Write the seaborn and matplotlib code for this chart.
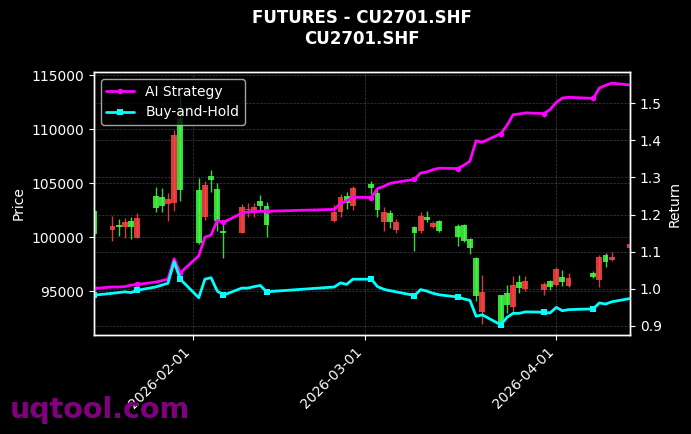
import matplotlib
matplotlib.use("Agg")
import matplotlib.pyplot as plt
import matplotlib.dates as mdates
from matplotlib.ticker import MultipleLocator
import numpy as np
import pandas as pd
import seaborn as sns

# ---------------- data ----------------
dates = [
    "2026-01-16", "2026-01-19", "2026-01-20", "2026-01-21", "2026-01-22", "2026-01-23",
    "2026-01-26", "2026-01-27", "2026-01-28", "2026-01-29", "2026-01-30",
    "2026-02-02", "2026-02-03", "2026-02-04", "2026-02-05", "2026-02-06",
    "2026-02-09", "2026-02-10", "2026-02-11", "2026-02-12", "2026-02-13",
    "2026-02-24", "2026-02-25", "2026-02-26", "2026-02-27",
    "2026-03-02", "2026-03-03", "2026-03-04", "2026-03-05", "2026-03-06",
    "2026-03-09", "2026-03-10", "2026-03-11", "2026-03-12", "2026-03-13",
    "2026-03-16", "2026-03-17", "2026-03-18", "2026-03-19", "2026-03-20",
    "2026-03-23", "2026-03-24", "2026-03-25", "2026-03-26", "2026-03-27",
    "2026-03-30", "2026-03-31", "2026-04-01", "2026-04-02", "2026-04-03",
    "2026-04-07", "2026-04-08", "2026-04-09", "2026-04-10", "2026-04-13",
]
opens = [
    100350, 101080, 100980, 101380, 100920, 101760,
    102730, 102900, 103600, 109490, 104350,
    99510, 104810, 105280, 101540, 100450,
    102850, 102600, 102790, 102940, 101170,
    102380, 103720, 103160, 104600,
    104600, 102540, 102320, 101380, 101450,
    100450, 102010, 101610, 101320, 100610,
    100080, 99670, 98990, 94530, 94910,
    92040, 93760, 95560, 95310, 95940,
    95680, 95370, 97030, 95840, 96240,
    96340, 98180, 97710, 98180, 99360,
]
highs = [
    102600, 102010, 101730, 101820, 101850, 102290,
    104650, 104530, 104070, 109950, 113410,
    105530, 105220, 106280, 105030, 101540,
    103100, 103150, 103200, 103970, 103250,
    103040, 104040, 104190, 104720,
    105190, 104410, 102790, 102540, 101700,
    101080, 102320, 102410, 101540, 101640,
    101230, 101230, 99980, 98180, 96560,
    94690, 95560, 96400, 96560, 96400,
    95870, 96090, 97240, 96940, 96710,
    96870, 98360, 98580, 98650, 99450,
]
lows = [
    100250, 99670, 100140, 99950, 99860, 99900,
    102320, 102320, 101540, 102480, 103410,
    99400, 101600, 104190, 100610, 98110,
    100400, 101900, 101900, 102480, 100050,
    101400, 101850, 102640, 102540,
    104040, 101850, 100610, 100860, 100450,
    98740, 100450, 101380, 100860, 100540,
    99210, 99610, 98430, 94070, 91940,
    91880, 92970, 93130, 94840, 95000,
    94690, 95160, 95530, 95470, 95420,
    96240, 95370, 97270, 97800, 98950,
]
closes = [
    102480, 100700, 101170, 100920, 101540, 99930,
    103790, 103700, 103130, 103160, 110950,
    104350, 101850, 105650, 104510, 100610,
    100450, 102500, 102480, 103410, 102940,
    101480, 102320, 103880, 102940,
    104970, 104090, 101380, 102220, 100700,
    100920, 100610, 101850, 100920, 101540,
    101080, 101170, 99830, 98110, 93070,
    94630, 94840, 93530, 95870, 95220,
    95090, 95940, 95630, 96310, 95470,
    96710, 96030, 98360, 97900, 99050,
]
ai_strategy = [
    1.001, 1.005, 1.005, 1.006, 1.010, 1.012,
    1.018, 1.022, 1.026, 1.081, 1.043,
    1.089, 1.139, 1.145, 1.184, 1.179,
    1.204, 1.207, 1.208, 1.209, 1.209,
    1.214, 1.230, 1.237, 1.247,
    1.246, 1.270, 1.276, 1.284, 1.287,
    1.295, 1.312, 1.315, 1.321, 1.325,
    1.324, 1.333, 1.344, 1.399, 1.395,
    1.418, 1.440, 1.469, 1.471, 1.474,
    1.472, 1.483, 1.502, 1.514, 1.516,
    1.513, 1.541, 1.548, 1.554, 1.549,
]
buy_hold = [
    0.983, 0.988, 0.990, 0.992, 0.990, 0.996,
    1.005, 1.010, 1.015, 1.073, 1.026,
    0.976, 1.026, 1.030, 0.994, 0.983,
    1.002, 1.002, 1.006, 1.009, 0.992,
    1.005, 1.016, 1.012, 1.026,
    1.026, 1.006, 0.999, 0.995, 0.992,
    0.982, 0.998, 0.994, 0.988, 0.984,
    0.978, 0.973, 0.969, 0.926, 0.930,
    0.903, 0.923, 0.934, 0.934, 0.938,
    0.937, 0.935, 0.950, 0.941, 0.944,
    0.946, 0.962, 0.959, 0.965, 0.974,
]

title_text = "FUTURES - CU2701.SHF\nCU2701.SHF"

# ---------------- style ----------------
sns.set_theme(style="dark", rc={
    "figure.facecolor": "black",
    "axes.facecolor": "black",
    "axes.edgecolor": "white",
    "axes.labelcolor": "white",
    "axes.linewidth": 1.0,
    "text.color": "white",
    "xtick.color": "white",
    "ytick.color": "white",
    "xtick.bottom": True,
    "ytick.left": True,
    "xtick.major.size": 3.5,
    "ytick.major.size": 3.5,
    "xtick.major.width": 0.8,
    "ytick.major.width": 0.8,
    "font.size": 10,
    "axes.labelsize": 10,
    "xtick.labelsize": 10,
    "ytick.labelsize": 10,
    "legend.fontsize": 10,
})
plt.rcParams["font.family"] = ["DejaVu Sans"]

up_color = "#44ff44"
down_color = "#ff4444"

df = pd.DataFrame({
    "date": pd.to_datetime(dates),
    "open": opens, "high": highs, "low": lows, "close": closes,
    "ai": ai_strategy, "bh": buy_hold,
})
df["x"] = mdates.date2num(df["date"])

fig, ax = plt.subplots(figsize=(6.91, 4.34), dpi=100)
fig.subplots_adjust(left=0.136, right=0.912, top=0.834, bottom=0.228)

# candlesticks
cols = np.where(df["close"] >= df["open"], up_color, down_color)
ax.vlines(df["x"], df["low"], df["high"], colors=cols, linewidth=1, alpha=0.85, zorder=2)
ax.bar(df["x"], (df["close"] - df["open"]).abs().clip(lower=60),
       bottom=np.minimum(df["open"], df["close"]), width=0.95,
       color=cols, alpha=0.85, linewidth=0, zorder=3)

ax.set_ylim(90950, 115320)
ax.yaxis.set_major_locator(MultipleLocator(5000))
ax.set_ylabel("Price")
ax.grid(True, color="#888888", linestyle="--", linewidth=0.5, alpha=0.45)

# return lines
ax2 = ax.twinx()
sns.lineplot(data=df, x="x", y="ai", ax=ax2, color="#ff00ff", linewidth=2,
             marker="o", markersize=4, markevery=5, markeredgewidth=0,
             label="AI Strategy", legend=False)
sns.lineplot(data=df, x="x", y="bh", ax=ax2, color="#00ffff", linewidth=2,
             marker="s", markersize=4, markevery=5, markeredgewidth=0,
             label="Buy-and-Hold", legend=False)
ax2.set_ylim(0.8755, 1.584)
ax2.yaxis.set_major_locator(MultipleLocator(0.1))
ax2.set_ylabel("Return")
ax2.set_xlabel("")
ax2.grid(True, axis="y", color="#888888", linestyle="--", linewidth=0.5, alpha=0.45)
ax2.tick_params(axis="y", colors="white", right=True, length=3.5, width=0.8)
for sp in ax2.spines.values():
    sp.set_color("white")
    sp.set_linewidth(1.0)

ax.set_xlim(df["x"].iloc[0], df["x"].iloc[-1])
ax.xaxis.set_major_locator(mdates.MonthLocator())
ax.xaxis.set_major_formatter(mdates.DateFormatter("%Y-%m-%d"))
ax.set_xlabel("")
for lbl in ax.get_xticklabels():
    lbl.set_rotation(45)
    lbl.set_ha("right")

leg = ax2.legend(loc="upper left", facecolor="black", edgecolor="#cccccc",
                 framealpha=0.8, labelcolor="white")

ax.set_title(title_text, fontsize=12, fontweight="bold", color="white", pad=20)

fig.text(0.014, 0.038, "uqtool.com", fontsize=20.5, fontweight="bold",
         color="#800080", ha="left", va="baseline")

fig.savefig("out.png", dpi=100, facecolor="black")
